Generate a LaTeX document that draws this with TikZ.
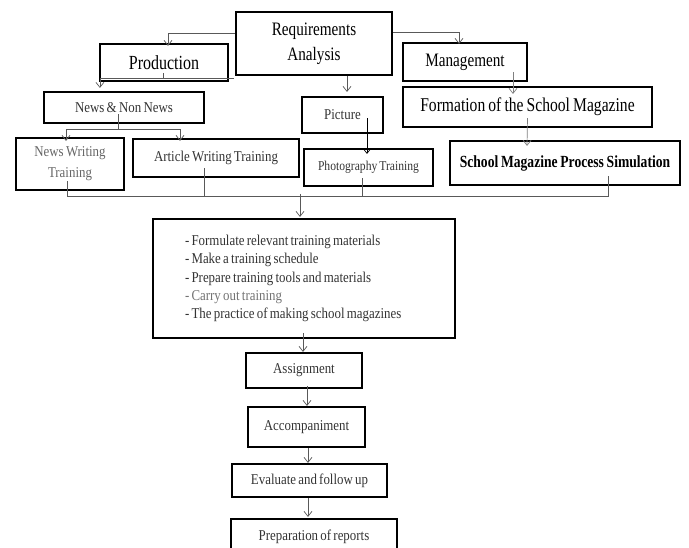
\documentclass[tikz,border=0pt]{standalone}
\usepackage{fontspec}
\setmainfont{Liberation Serif}
\newfontfamily\hdfont[FakeStretch=0.8,WordSpace=0.8]{Liberation Serif}
\newfontfamily\smfont[FakeStretch=0.86,WordSpace=0.7]{Liberation Serif}
\usetikzlibrary{arrows.meta,calc}
\begin{document}
\begin{tikzpicture}[x=1pt,y=-1pt,
  box/.style={draw=black,line width=2.2pt,inner sep=0pt,align=center},
  conn/.style={draw=black!65,line width=0.7pt,-{Straight Barb[length=5pt,width=8pt,line width=0.7pt]}},
  plain/.style={draw=black!65,line width=0.7pt},
  hd/.style={font=\hdfont\fontsize{19}{25}\selectfont},
  sm/.style={font=\smfont\fontsize{15}{21}\selectfont,text=black!80}]
\useasboundingbox (0,0) rectangle (689,548);
\clip (0,0) rectangle (689,548);

% nodes
\node[box,hd,minimum width=156,minimum height=63] (req) at (314,43.5) {Requirements\\Analysis};
\node[box,font=\hdfont\fontsize{20}{24}\selectfont,minimum width=128,minimum height=37] (prod) at (164,62.5) {Production};
\node[box,hd,minimum width=124,minimum height=38] (mgmt) at (465,62) {Management};
\node[box,font=\hdfont\fontsize{19.5}{24}\selectfont,minimum width=249,minimum height=40] (form) at (527.5,107) {Formation of the School Magazine};
\node[box,font=\hdfont\bfseries\fontsize{17}{20}\selectfont,minimum width=230,minimum height=44] (smps) at (565,163) {School Magazine Process Simulation};
\node[box,sm,minimum width=81,minimum height=36] (pic) at (342.5,115) {Picture};
\node[box,sm,font=\smfont\fontsize{13.5}{16}\selectfont,minimum width=129,minimum height=37] (photo) at (368.5,167.5) {Photography Training};
\node[box,sm,minimum width=160,minimum height=31] (nnn) at (124,107.5) {News \& Non News};
\node[box,sm,text=black!60,minimum width=108,minimum height=52] (nwt) at (70,164) {News Writing\\Training};
\node[box,sm,minimum width=166,minimum height=38] (awt) at (216,158) {Article Writing Training};
\node[box,sm,font=\smfont\fontsize{15}{18.3}\selectfont,minimum height=119,text width=238,inner xsep=32,align=flush left] (main) at (304,278.5)
  {- Formulate relevant training materials\\
   - Make a training schedule\\
   - Prepare training tools and materials\\
   {\color{black!55}- Carry out training}\\
   - The practice of making school magazines};
\node[box,sm,minimum width=116,minimum height=35] (asg) at (304,370.5) {Assignment};
\node[box,sm,minimum width=117,minimum height=40] (acc) at (306.5,427) {Accompaniment};
\node[box,sm,minimum width=155,minimum height=33] (eval) at (309.5,480.5) {Evaluate and follow up};
\node[box,sm,minimum width=166,minimum height=36] (prep) at (314,537) {Preparation of reports};

% connectors
\draw[conn] ([yshift=10.5pt]req.west) -| ($(prod.north)+(4,3)$);
\draw[conn] ([yshift=11.5pt]req.east) -| ($(mgmt.north)+(-6,2)$);
\draw[conn] ($(req.south)+(33,0)$) -- ($(pic.north)+(4.5,-4)$);
\draw[conn,draw=black!50] ($(mgmt.south)+(48,-10)$) -- ($(form.north)+(-14.5,8)$);
\draw[conn,draw=black!50] ($(form.south)+(0,-10)$) -- ($(smps.north)+(-38,6)$);
\draw[conn,draw=black] ($(pic.south)+(24.5,-16)$) -- ($(photo.north)+(-1.5,6)$);

\draw[plain] ($(prod.south)+(-1,-9)$) -- ($(prod.south)+(-1,-4)$);
\draw[conn] ($(prod.south east)+(5,-4)$) -- ($(prod.south west)+(1,-4)$) -- ($(nnn.north west)+(57,-3)$);

\draw[plain] ($(nnn.south)+(-6,-10)$) -- ($(nnn.south)+(-6,5)$);
\draw[conn] ($(nnn.south)+(-6,5)$) -| ($(nwt.north)+(-4,4)$);
\draw[conn] ($(nnn.south)+(-6,5)$) -| ($(awt.north)+(-36,3)$);

\draw[plain] ($(nwt.south)+(-3,-10)$) |- ($(smps.south)+(43,10)$) -- ($(smps.south)+(43,-10)$);
\draw[plain] ($(awt.south)+(-12,-10)$) -- ($(awt.south)+(-12,18)$);
\draw[plain] ($(photo.south)+(-6.5,-9)$) -- ($(photo.south)+(-6.5,9)$);
\draw[conn] ($(main.north)+(-4,-24)$) -- ($(main.north)+(-4,-1)$);

\draw[conn] ($(main.south)+(-1,-6)$) -- ($(asg.north)+(-1,0)$);
\draw[conn] ($(asg.south)+(3,-3)$) -- ($(acc.north)+(0.5,0)$);
\draw[conn] ($(acc.south)+(1.5,0)$) -- ($(eval.north)+(-1.5,0)$);
\draw[conn] ($(eval.south)+(-1.5,0)$) -- ($(prep.north)+(-6,-1)$);
\end{tikzpicture}
\end{document}
